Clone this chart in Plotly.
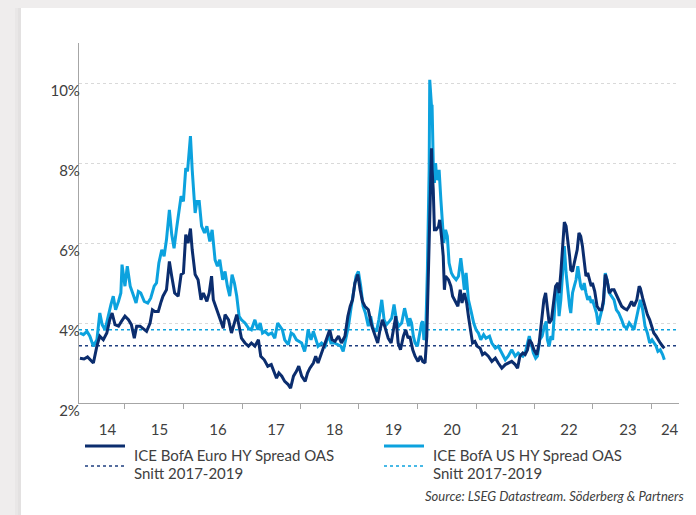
import datetime as dt
import math
import plotly.graph_objects as go

# ---------------- data (decimal year, spread in %) ----------------
euro_t = [2014.23, 2014.30, 2014.36, 2014.40, 2014.46, 2014.52, 2014.57, 2014.63, 2014.69, 2014.74,
          2014.78, 2014.83, 2014.89, 2014.94, 2015.00, 2015.06, 2015.11, 2015.16, 2015.20, 2015.26,
          2015.31, 2015.37, 2015.43, 2015.47, 2015.51, 2015.57, 2015.62, 2015.65, 2015.71, 2015.76,
          2015.80, 2015.85, 2015.91, 2015.96, 2016.00, 2016.04, 2016.08, 2016.12, 2016.15, 2016.20,
          2016.25, 2016.30, 2016.34, 2016.40, 2016.44, 2016.48, 2016.51, 2016.57, 2016.62, 2016.68,
          2016.71, 2016.77, 2016.82, 2016.87, 2016.91, 2016.95, 2016.99, 2017.05, 2017.11, 2017.16,
          2017.22, 2017.28, 2017.32, 2017.38, 2017.44, 2017.50, 2017.55, 2017.59, 2017.63, 2017.68,
          2017.73, 2017.79, 2017.83, 2017.88, 2017.93, 2017.97, 2018.02, 2018.08, 2018.12, 2018.16,
          2018.22, 2018.26, 2018.30, 2018.36, 2018.41, 2018.45, 2018.50, 2018.54, 2018.59, 2018.65,
          2018.70, 2018.76, 2018.81, 2018.85, 2018.89, 2018.93, 2018.98, 2019.02, 2019.06, 2019.10,
          2019.16, 2019.22, 2019.27, 2019.32, 2019.36, 2019.40, 2019.44, 2019.50, 2019.55, 2019.59,
          2019.63, 2019.67, 2019.71, 2019.76, 2019.80, 2019.84, 2019.87, 2019.92, 2019.96, 2020.01,
          2020.05, 2020.09, 2020.13, 2020.16, 2020.19, 2020.21, 2020.24, 2020.25, 2020.27, 2020.29,
          2020.32, 2020.36, 2020.38, 2020.41, 2020.44, 2020.46, 2020.48, 2020.53, 2020.57, 2020.60,
          2020.64, 2020.69, 2020.73, 2020.76, 2020.80, 2020.84, 2020.87, 2020.91, 2020.94, 2020.98,
          2021.02, 2021.07, 2021.11, 2021.15, 2021.21, 2021.27, 2021.33, 2021.38, 2021.44, 2021.50,
          2021.55, 2021.61, 2021.67, 2021.71, 2021.75, 2021.80, 2021.84, 2021.88, 2021.91, 2021.95,
          2021.99, 2022.04, 2022.08, 2022.12, 2022.16, 2022.19, 2022.22, 2022.25, 2022.29, 2022.32,
          2022.36, 2022.40, 2022.42, 2022.45, 2022.48, 2022.51, 2022.54, 2022.57, 2022.60, 2022.62,
          2022.65, 2022.68, 2022.71, 2022.73, 2022.76, 2022.79, 2022.82, 2022.85, 2022.88, 2022.91,
          2022.94, 2022.97, 2022.99, 2023.03, 2023.07, 2023.11, 2023.15, 2023.18, 2023.21, 2023.24,
          2023.28, 2023.32, 2023.36, 2023.40, 2023.44, 2023.49, 2023.53, 2023.58, 2023.62, 2023.66,
          2023.70, 2023.75, 2023.79, 2023.81, 2023.85, 2023.89, 2023.93, 2023.97, 2024.01, 2024.04,
          2024.08, 2024.11, 2024.15, 2024.19, 2024.22]
euro_v = [3.12, 3.10, 3.15, 3.08, 3.00, 3.42, 3.67, 3.58, 3.75, 4.08,
          4.25, 3.96, 3.92, 4.04, 4.17, 4.08, 3.96, 3.62, 3.92, 3.92,
          3.87, 3.79, 4.00, 4.33, 4.29, 4.29, 4.54, 4.67, 4.83, 5.54,
          5.17, 4.75, 4.67, 5.21, 5.25, 6.21, 6.00, 6.36, 5.83, 5.21,
          5.08, 4.58, 4.75, 4.54, 4.75, 5.17, 4.58, 4.33, 4.08, 3.87,
          4.21, 4.08, 3.75, 4.04, 4.21, 3.92, 3.62, 3.50, 3.42, 3.50,
          3.42, 3.58, 3.17, 3.08, 2.92, 2.96, 2.75, 2.62, 2.75, 2.67,
          2.54, 2.46, 2.37, 2.67, 2.79, 2.92, 2.67, 2.54, 2.75, 2.87,
          3.00, 3.17, 3.00, 3.25, 3.46, 3.58, 3.83, 3.58, 3.54, 3.67,
          3.50, 3.67, 4.17, 4.42, 4.58, 5.00, 5.21, 4.83, 4.54, 4.42,
          4.33, 3.92, 3.71, 3.50, 3.83, 4.08, 3.92, 3.62, 3.50, 3.83,
          4.17, 3.50, 3.33, 3.67, 3.83, 3.62, 3.67, 3.33, 3.17, 3.04,
          3.17, 3.04, 3.00, 3.67, 5.33, 7.00, 8.37, 7.83, 7.33, 6.33,
          6.33, 6.42, 6.58, 6.17, 5.67, 4.83, 5.17, 5.08, 4.92, 4.67,
          4.54, 4.42, 4.83, 4.50, 4.75, 4.50, 4.17, 3.83, 3.50, 3.54,
          3.42, 3.37, 3.21, 3.25, 3.17, 3.04, 3.12, 3.00, 2.87, 2.96,
          3.00, 3.04, 2.96, 2.87, 3.17, 3.25, 3.21, 3.33, 3.58, 3.50,
          3.33, 3.21, 3.50, 4.08, 4.58, 4.75, 4.42, 4.00, 4.08, 4.42,
          4.92, 5.00, 4.75, 5.25, 5.83, 6.52, 6.42, 6.08, 5.67, 5.33,
          5.29, 5.50, 5.67, 5.83, 6.25, 6.17, 5.92, 5.50, 5.17, 5.25,
          5.08, 4.92, 5.00, 4.79, 4.42, 4.33, 4.33, 4.58, 5.21, 5.08,
          4.75, 4.83, 4.83, 4.71, 4.58, 4.42, 4.37, 4.33, 4.42, 4.54,
          4.42, 4.58, 4.92, 4.87, 4.62, 4.42, 4.21, 4.08, 3.92, 3.75,
          3.67, 3.58, 3.50, 3.42, 3.37]

us_t = [2014.23, 2014.29, 2014.35, 2014.40, 2014.46, 2014.52, 2014.57, 2014.61, 2014.66, 2014.72,
        2014.76, 2014.80, 2014.84, 2014.89, 2014.93, 2014.95, 2015.00, 2015.04, 2015.09, 2015.14,
        2015.19, 2015.23, 2015.27, 2015.33, 2015.39, 2015.44, 2015.50, 2015.54, 2015.58, 2015.63,
        2015.67, 2015.71, 2015.76, 2015.80, 2015.84, 2015.88, 2015.92, 2015.96, 2016.00, 2016.04,
        2016.07, 2016.12, 2016.15, 2016.20, 2016.23, 2016.27, 2016.31, 2016.36, 2016.40, 2016.45,
        2016.49, 2016.54, 2016.58, 2016.62, 2016.67, 2016.71, 2016.75, 2016.79, 2016.83, 2016.87,
        2016.91, 2016.95, 2016.99, 2017.05, 2017.11, 2017.16, 2017.22, 2017.27, 2017.31, 2017.35,
        2017.39, 2017.45, 2017.51, 2017.56, 2017.61, 2017.65, 2017.69, 2017.73, 2017.79, 2017.84,
        2017.88, 2017.93, 2017.97, 2018.02, 2018.07, 2018.10, 2018.13, 2018.18, 2018.22, 2018.26,
        2018.30, 2018.36, 2018.42, 2018.48, 2018.52, 2018.58, 2018.63, 2018.69, 2018.73, 2018.77,
        2018.82, 2018.86, 2018.90, 2018.95, 2018.99, 2019.03, 2019.07, 2019.11, 2019.16, 2019.20,
        2019.24, 2019.30, 2019.34, 2019.39, 2019.43, 2019.47, 2019.52, 2019.56, 2019.60, 2019.64,
        2019.68, 2019.73, 2019.78, 2019.81, 2019.85, 2019.87, 2019.90, 2019.93, 2019.96, 2020.00,
        2020.03, 2020.07, 2020.09, 2020.11, 2020.14, 2020.17, 2020.20, 2020.21, 2020.24, 2020.25,
        2020.27, 2020.29, 2020.31, 2020.33, 2020.36, 2020.37, 2020.40, 2020.42, 2020.45, 2020.48,
        2020.51, 2020.54, 2020.58, 2020.61, 2020.66, 2020.70, 2020.74, 2020.77, 2020.80, 2020.83,
        2020.87, 2020.91, 2020.96, 2021.00, 2021.04, 2021.08, 2021.13, 2021.17, 2021.23, 2021.27,
        2021.33, 2021.38, 2021.44, 2021.50, 2021.55, 2021.61, 2021.67, 2021.72, 2021.75, 2021.80,
        2021.84, 2021.88, 2021.91, 2021.94, 2021.98, 2022.02, 2022.05, 2022.09, 2022.13, 2022.17,
        2022.20, 2022.22, 2022.25, 2022.28, 2022.31, 2022.34, 2022.37, 2022.40, 2022.42, 2022.45,
        2022.48, 2022.51, 2022.54, 2022.57, 2022.60, 2022.62, 2022.65, 2022.68, 2022.71, 2022.74,
        2022.77, 2022.79, 2022.82, 2022.85, 2022.88, 2022.91, 2022.94, 2022.97, 2022.99, 2023.03,
        2023.06, 2023.09, 2023.12, 2023.15, 2023.18, 2023.21, 2023.24, 2023.28, 2023.32, 2023.36,
        2023.40, 2023.44, 2023.49, 2023.53, 2023.58, 2023.62, 2023.66, 2023.70, 2023.75, 2023.79,
        2023.81, 2023.85, 2023.89, 2023.93, 2023.97, 2024.01, 2024.04, 2024.08, 2024.11, 2024.15,
        2024.19, 2024.22]
us_v = [3.75, 3.71, 3.79, 3.67, 3.42, 3.58, 4.25, 3.96, 3.83, 4.25,
        4.46, 4.67, 4.33, 4.54, 4.75, 5.46, 4.92, 5.42, 4.92, 4.71,
        4.50, 4.79, 4.75, 4.54, 4.50, 4.62, 4.92, 5.00, 5.50, 5.83,
        5.67, 6.08, 6.83, 6.21, 5.87, 6.33, 6.71, 7.17, 7.04, 7.87,
        7.79, 8.67, 7.83, 6.75, 7.04, 7.04, 6.42, 6.25, 6.42, 6.04,
        6.33, 5.58, 5.42, 5.58, 5.08, 5.29, 4.92, 4.67, 5.21, 5.00,
        4.67, 4.17, 4.08, 4.00, 3.87, 3.83, 4.08, 3.83, 4.00, 3.75,
        3.79, 3.71, 3.75, 3.62, 4.00, 3.92, 3.83, 3.58, 3.46, 3.75,
        3.71, 3.58, 3.54, 3.50, 3.29, 3.50, 3.83, 3.58, 3.79, 3.62,
        3.42, 3.50, 3.42, 3.71, 3.50, 3.50, 3.46, 3.42, 3.29, 3.58,
        3.92, 4.33, 4.75, 5.17, 5.29, 4.92, 4.42, 4.25, 3.92, 4.17,
        3.87, 3.79, 4.08, 4.58, 4.08, 3.96, 4.04, 4.12, 4.46, 4.08,
        3.92, 4.00, 4.37, 4.17, 3.92, 4.12, 4.00, 3.67, 3.50, 3.42,
        3.67, 4.00, 4.04, 3.58, 3.67, 5.33, 7.83, 10.08, 9.42, 9.42,
        8.00, 7.50, 8.00, 7.58, 7.67, 7.83, 7.08, 6.67, 6.00, 6.33,
        6.17, 5.50, 5.25, 5.17, 5.08, 5.17, 5.62, 5.25, 4.83, 5.25,
        4.58, 4.33, 4.00, 3.83, 3.75, 3.58, 3.71, 3.62, 3.67, 3.50,
        3.37, 3.42, 3.25, 3.08, 3.17, 3.33, 3.17, 3.25, 3.21, 3.17,
        3.25, 3.50, 3.67, 3.50, 3.25, 3.12, 3.17, 3.58, 3.67, 3.92,
        4.04, 3.58, 3.42, 3.67, 3.58, 4.25, 4.92, 4.75, 4.17, 4.58,
        5.17, 5.92, 5.25, 4.75, 4.42, 4.25, 4.75, 4.92, 5.08, 5.42,
        5.17, 4.92, 4.83, 5.00, 4.75, 4.58, 4.67, 4.50, 4.58, 4.42,
        4.25, 3.96, 4.17, 4.33, 4.50, 5.25, 5.08, 4.75, 4.67, 4.58,
        4.33, 4.25, 4.08, 3.92, 3.87, 4.00, 3.92, 3.83, 4.17, 4.50,
        4.58, 4.33, 3.92, 3.75, 3.50, 3.58, 3.50, 3.42, 3.29, 3.33,
        3.21, 3.08]

euro_avg = 3.43   # Snitt 2017-2019, Euro HY
us_avg = 3.83     # Snitt 2017-2019, US HY

year_label_pos = [2014.70, 2015.59, 2016.59, 2017.58, 2018.58, 2019.59, 2020.59,
                  2021.58, 2022.59, 2023.60, 2024.31]
year_labels = ["14", "15", "16", "17", "18", "19", "20", "21", "22", "23", "24"]
year_ticks = [2015, 2016, 2017, 2018, 2019, 2020, 2021, 2022, 2023, 2024]
y_ticks = [2, 4, 6, 8, 10]
y_labels = ["2%", "4%", "6%", "8%", "10%"]

euro_name = "ICE BofA Euro HY Spread OAS"
us_name = "ICE BofA US HY Spread OAS"
avg_name = "Snitt 2017-2019"
source_text = "Source: LSEG Datastream. Söderberg & Partners"

# ---------------- helpers ----------------
def yr2date(t):
    y = int(math.floor(t))
    a = dt.datetime(y, 1, 1)
    b = dt.datetime(y + 1, 1, 1)
    return a + (b - a) * (t - y)

X0, X1 = 2014.214, 2024.47
W, H = 696, 515
L, R, T, B = 79, 17, 43, 112
PW, PH = W - L - R, H - T - B

def px(x):
    return (x - L) / PW

def py(y):
    return (H - B - y) / PH

NAVY = "#0b2d6e"
LIGHT = "#0ca2de"
TXT = "#404040"
AX = "#a6a6a6"
FONT = "Lato"

xr = [yr2date(X0), yr2date(X1)]

fig = go.Figure()
fig.add_trace(go.Scatter(x=xr, y=[us_avg, us_avg], mode="lines",
                         line=dict(color=LIGHT, width=1.4, dash="dot"), hoverinfo="skip"))
fig.add_trace(go.Scatter(x=xr, y=[euro_avg, euro_avg], mode="lines",
                         line=dict(color="#1f3f80", width=1.4, dash="dot"), hoverinfo="skip"))
fig.add_trace(go.Scatter(x=[yr2date(t) for t in us_t], y=us_v, mode="lines",
                         line=dict(color=LIGHT, width=3), name=us_name))
fig.add_trace(go.Scatter(x=[yr2date(t) for t in euro_t], y=euro_v, mode="lines",
                         line=dict(color=NAVY, width=3), name=euro_name))

shapes = [
    dict(type="rect", xref="paper", yref="paper", x0=px(21), x1=px(W + 5), y0=py(8), y1=py(H + 5),
         fillcolor="white", line=dict(width=0), layer="below"),
    dict(type="rect", xref="paper", yref="paper", x0=px(15), x1=px(21), y0=py(8), y1=py(H + 5),
         fillcolor="#e9e7e7", line=dict(width=0), layer="below"),
    dict(type="rect", xref="paper", yref="paper", x0=px(18), x1=px(21), y0=py(8), y1=py(H + 5),
         fillcolor="#e3e1e1", line=dict(width=0), layer="below"),
    # legend samples
    dict(type="line", xref="paper", yref="paper", x0=px(85), x1=px(125), y0=py(446), y1=py(446),
         line=dict(color=NAVY, width=3)),
    dict(type="line", xref="paper", yref="paper", x0=px(85), x1=px(125), y0=py(466), y1=py(466),
         line=dict(color="#1f3f80", width=1.4, dash="dot")),
    dict(type="line", xref="paper", yref="paper", x0=px(384), x1=px(424), y0=py(446), y1=py(446),
         line=dict(color=LIGHT, width=3)),
    dict(type="line", xref="paper", yref="paper", x0=px(384), x1=px(424), y0=py(466), y1=py(466),
         line=dict(color=LIGHT, width=1.4, dash="dot")),
]

ann = []
for xx, name in [(132, euro_name), (431, us_name)]:
    ann.append(dict(xref="paper", yref="paper", x=px(xx), y=py(455), text=name, showarrow=False,
                    xanchor="left", yanchor="middle", font=dict(family=FONT, size=15, color=TXT)))
    ann.append(dict(xref="paper", yref="paper", x=px(xx), y=py(473), text=avg_name, showarrow=False,
                    xanchor="left", yanchor="middle", font=dict(family=FONT, size=15, color=TXT)))
ann.append(dict(xref="paper", yref="paper", x=px(686), y=py(496), text="<i>" + source_text + "</i>",
                showarrow=False, xanchor="right", yanchor="middle",
                font=dict(family=FONT, size=13, color=TXT)))

fig.update_layout(
    width=W, height=H,
    margin=dict(l=L, r=R, t=T, b=B, pad=0),
    paper_bgcolor="#efeded", plot_bgcolor="white",
    showlegend=False,
    shapes=shapes, annotations=ann,
    font=dict(family=FONT, size=14, color=TXT),
)
fig.update_xaxes(
    type="date", range=xr,
    tickmode="array", tickvals=[yr2date(t) for t in year_label_pos], ticktext=year_labels,
    ticks="", showgrid=False, zeroline=False,
    showline=True, linecolor=AX, linewidth=1.2,
    ticklabelstandoff=13,
    tickfont=dict(family=FONT, size=15, color=TXT),
    minor=dict(tickmode="array", tickvals=[yr2date(t) for t in year_ticks],
               ticks="outside", ticklen=5, tickcolor=AX, tickwidth=1.2, showgrid=False),
)
fig.update_yaxes(
    range=[2, 11], tickmode="array", tickvals=y_ticks, ticktext=y_labels,
    ticks="",
    showgrid=True, gridcolor="#d9d9d9", griddash="dot", gridwidth=1,
    zeroline=False, showline=True, linecolor=AX, linewidth=1.2,
    ticklabelshift=8, ticklabelstandoff=-5,
    tickfont=dict(family=FONT, size=15, color=TXT),
)

fig.write_html("out.html")
